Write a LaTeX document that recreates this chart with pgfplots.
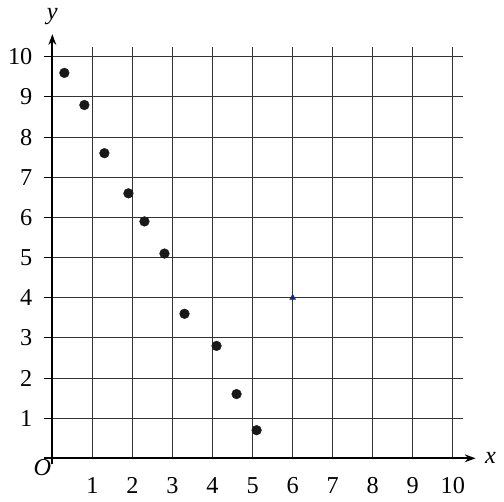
\documentclass[border=0pt]{standalone}
\usepackage{pgfplots}
\pgfplotsset{compat=1.18}
\usepackage{fontspec}
\setmainfont{Liberation Serif}
\usetikzlibrary{arrows.meta}
\begin{document}
\fontsize{25}{29}\selectfont
\begin{tikzpicture}
\begin{axis}[
  x=41.1bp, y=41.2bp,
  axis lines=middle,
  xmin=0, xmax=10.25, ymin=0, ymax=10.25,
  xtick={1,...,10}, ytick={1,...,10},
  grid=major,
  major grid style={draw=black!80, line width=1bp},
  axis line style={line width=2bp},
  x axis line style={-{Stealth[length=11bp,width=8bp]}, shorten >=-13bp, shorten <=-9bp},
  y axis line style={-{Stealth[length=11bp,width=8bp]}, shorten >=-13bp, shorten <=-6bp},
  tick align=outside,
  xtick style={draw=none},
  ytick style={draw=black, line width=1bp},
  major tick length=9bp,
  tick label style={font=\fontsize{25}{29}\selectfont},
  /pgf/number format/assume math mode=true,
  xticklabel style={yshift=-2bp},
  yticklabel style={xshift=-3bp},
  xlabel={\textit{x}}, ylabel={\textit{y}},
  xlabel style={at={(axis cs:10.6,0)}, anchor=west, font=\fontsize{25}{29}\selectfont},
  ylabel style={at={(axis cs:0,10.6)}, anchor=south, font=\fontsize{25}{29}\selectfont},
  clip=false,
]
\addplot[only marks, mark=*, mark size=5bp, color=black!90] coordinates {
(0.3,9.6) (0.8,8.8) (1.3,7.6) (1.9,6.6) (2.3,5.9) (2.8,5.1) (3.3,3.6) (4.1,2.8) (4.6,1.6) (5.1,0.7)
};
\addplot[only marks, mark=triangle*, mark size=3.5bp, color={rgb,255:red,20;green,40;blue,120}] coordinates {(6,4)};
\node[anchor=north east, inner sep=1bp] at (axis cs:0,0) {\textit{O}};
\end{axis}
\end{tikzpicture}
\end{document}
